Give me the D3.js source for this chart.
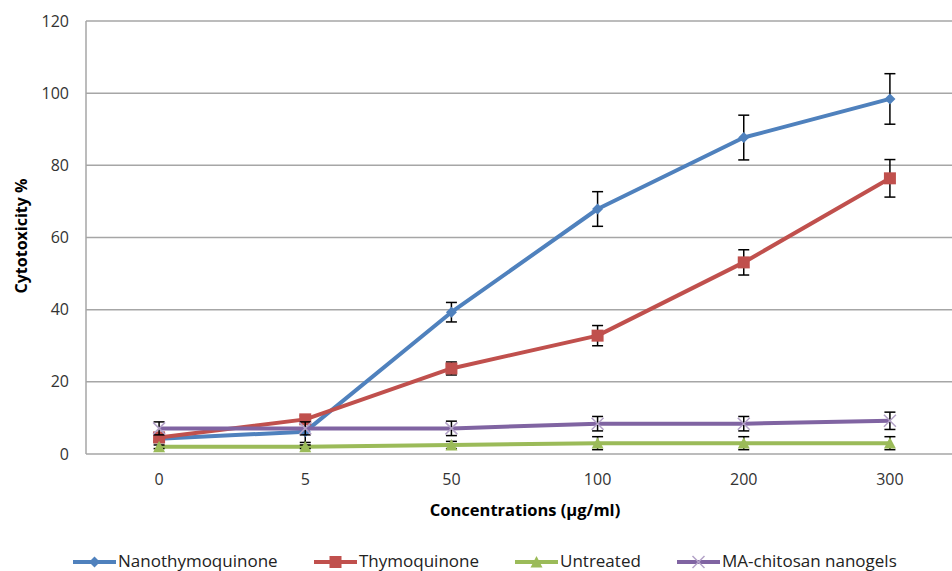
<!DOCTYPE html>
<html><head><meta charset="utf-8">
<script src="https://cdn.jsdelivr.net/npm/d3@7"></script>
<style>body{margin:0;background:#fff}svg{display:block}</style>
</head><body>
<svg id="c" width="952" height="571"></svg>
<script>
const categories = ["0","5","50","100","200","300"];
const yTicks = [0,20,40,60,80,100,120];
const seriesNames = ["Nanothymoquinone","Thymoquinone","Untreated","MA-chitosan nanogels"];
const nanoTQ = [4.2, 6.2, 39.3, 67.9, 87.7, 98.4];
const nanoTQErr = [1.0, 3.0, 2.7, 4.8, 6.2, 7.0];
const thymoTQ = [4.6, 9.6, 23.7, 32.8, 53.1, 76.4];
const thymoTQErr = [1.0, 1.0, 1.8, 2.8, 3.5, 5.2];
const untreated = [2.0, 2.0, 2.5, 3.0, 3.0, 3.0];
const untreatedErr = [0.5, 0.5, 1.0, 1.8, 1.8, 1.8];
const maChitosan = [7.1, 7.1, 7.1, 8.4, 8.4, 9.2];
const maChitosanErr = [1.8, 1.8, 2.0, 2.0, 2.0, 2.4];
const colors = ["#4F81BD","#C0504D","#9BBB59","#8064A2"];
const markers = ["diamond","square","triangle","x"];

const series = [
  {name: seriesNames[0], values: nanoTQ, err: nanoTQErr},
  {name: seriesNames[1], values: thymoTQ, err: thymoTQErr},
  {name: seriesNames[2], values: untreated, err: untreatedErr},
  {name: seriesNames[3], values: maChitosan, err: maChitosanErr}
];

const svg = d3.select("#c");
const L = 86, R = 963, T = 21, B = 454;
const x = d3.scaleBand().domain(categories).range([L, R]).padding(0);
const y = d3.scaleLinear().domain([0,120]).range([B, T]);
const cx = c => x(c) + x.bandwidth()/2;
const font = "'Open Sans', 'Noto Sans', sans-serif";

// gridlines
svg.append("g").selectAll("line").data(yTicks).join("line")
  .attr("x1", L).attr("x2", 952).attr("y1", d=>y(d)).attr("y2", d=>y(d))
  .attr("stroke", "#A6A6A6").attr("stroke-width", 1.5);
// left axis line
svg.append("line").attr("x1", L).attr("x2", L).attr("y1", T).attr("y2", B)
  .attr("stroke", "#A6A6A6").attr("stroke-width", 1.5);

// y axis tick labels
const yAxis = d3.axisLeft(y).tickValues(yTicks).tickSize(0).tickPadding(17);
const gy = svg.append("g").attr("transform", `translate(${L},0)`).call(yAxis);
gy.select(".domain").remove();
gy.selectAll("text").attr("font-family", font).attr("font-size", 16).attr("fill", "#333");

// x axis tick labels
const xAxis = d3.axisBottom(x).tickSize(0).tickPadding(20);
const gx = svg.append("g").attr("transform", `translate(0,${B})`).call(xAxis);
gx.select(".domain").remove();
gx.selectAll("text").attr("font-family", font).attr("font-size", 16).attr("fill", "#333");

// axis titles
svg.append("text").attr("x", 525).attr("y", 516).attr("text-anchor", "middle")
  .attr("font-family", font).attr("font-size", 16.5).attr("font-weight", "bold").attr("fill", "#000")
  .text("Concentrations (µg/ml)");
svg.append("text").attr("transform", "translate(27,236) rotate(-90)").attr("text-anchor", "middle")
  .attr("font-family", font).attr("font-size", 16).attr("font-weight", "bold").attr("fill", "#000")
  .text("Cytotoxicity %");

function drawMarker(g, type, color, px, py, s) {
  if (type === "diamond") {
    g.append("path").attr("d", `M${px},${py-s}L${px+s},${py}L${px},${py+s}L${px-s},${py}Z`).attr("fill", color);
  } else if (type === "square") {
    g.append("rect").attr("x", px-s).attr("y", py-s).attr("width", 2*s).attr("height", 2*s).attr("fill", color);
  } else if (type === "triangle") {
    g.append("path").attr("d", `M${px},${py-s}L${px+s},${py+s*0.9}L${px-s},${py+s*0.9}Z`).attr("fill", color);
  } else if (type === "x") {
    g.append("path").attr("d", `M${px-s},${py-s}L${px+s},${py+s}M${px+s},${py-s}L${px-s},${py+s}`)
      .attr("stroke", "#B3A2C7").attr("stroke-width", 1.5).attr("fill", "none");
  }
}

const line = d3.line().x((d,i)=>cx(categories[i])).y(d=>y(d));
const sizes = [5.5, 6, 6, 6];

series.forEach((s, k) => {
  const g = svg.append("g");
  g.append("path").datum(s.values).attr("d", line).attr("fill", "none")
    .attr("stroke", colors[k]).attr("stroke-width", 4).attr("stroke-linejoin", "round");
  // error bars
  s.values.forEach((v, i) => {
    const px = cx(categories[i]);
    const y1 = y(v + s.err[i]), y2 = y(v - s.err[i]);
    g.append("line").attr("x1", px).attr("x2", px).attr("y1", y1).attr("y2", y2)
      .attr("stroke", "#000").attr("stroke-width", 1.5);
    [y1, y2].forEach(yy => g.append("line").attr("x1", px-5.5).attr("x2", px+5.5)
      .attr("y1", yy).attr("y2", yy).attr("stroke", "#000").attr("stroke-width", 1.5));
  });
  s.values.forEach((v, i) => drawMarker(g, markers[k], colors[k], cx(categories[i]), y(v), sizes[k]));
});

// legend
const legX = [73, 314, 515, 677];
const legY = 562;
seriesNames.forEach((n, k) => {
  const g = svg.append("g");
  g.append("line").attr("x1", legX[k]).attr("x2", legX[k]+43).attr("y1", legY).attr("y2", legY)
    .attr("stroke", colors[k]).attr("stroke-width", 4);
  drawMarker(g, markers[k], colors[k], legX[k]+21.5, legY, sizes[k]);
  g.append("text").attr("x", legX[k]+45).attr("y", legY+4.5).attr("font-family", font)
    .attr("font-size", 17).attr("fill", "#222").text(n);
});
</script>
</body></html>
